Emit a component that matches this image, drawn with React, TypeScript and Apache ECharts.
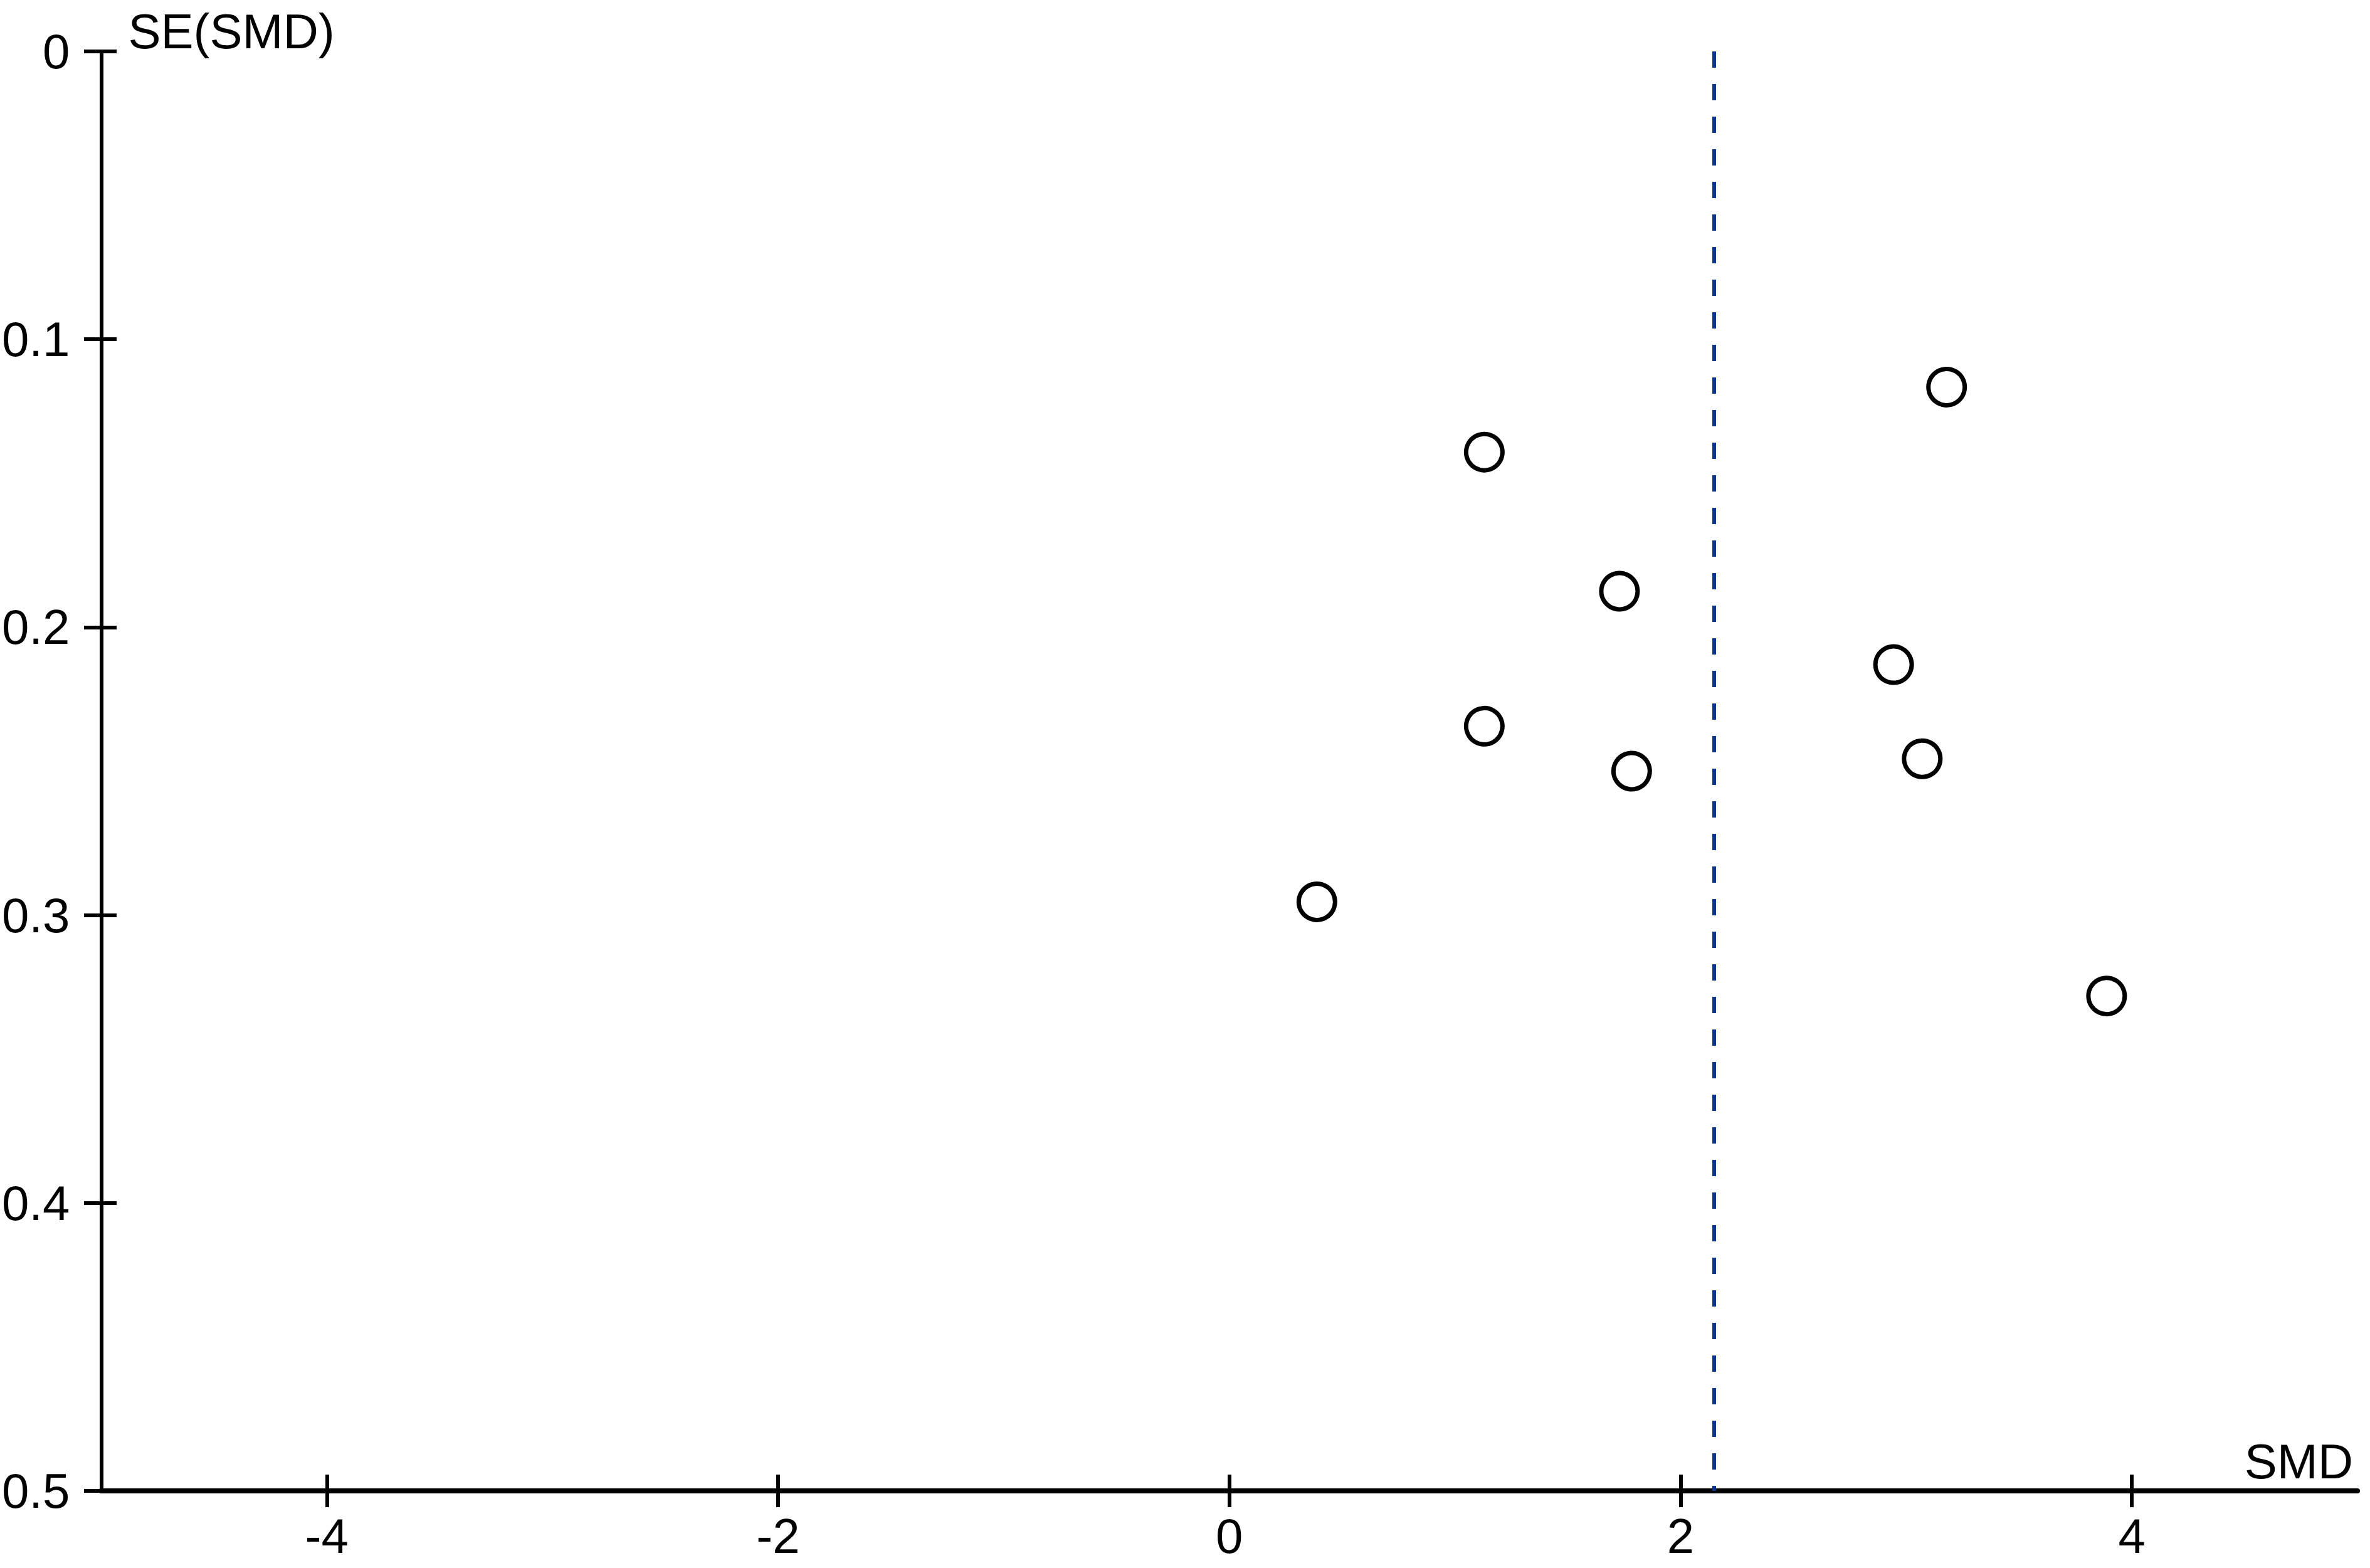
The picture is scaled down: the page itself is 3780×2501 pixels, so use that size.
import React, { useEffect, useRef } from "react";
import * as echarts from "echarts";

const smdValues: number[] = [3.179, 1.13, 1.729, 2.944, 1.13, 1.783, 3.071, 0.388, 3.888];
const seValues: number[] = [0.1166, 0.1392, 0.1875, 0.213, 0.2344, 0.25, 0.2457, 0.2954, 0.3281];
const pooledSMD = 2.147;
const xTicks: number[] = [-4, -2, 0, 2, 4];
const yMin = 0;
const yMax = 0.5;
const yStep = 0.1;
const xMin = -5;
const xMax = 5;

const FONT = "Liberation Sans, Arial, sans-serif";

const W = 3780;
const H = 2501;
const G_LEFT = 160;
const G_RIGHT = 20;
const G_TOP = 82;
const G_BOTTOM = 123;
const TICK_HALF = 26;

export default function App() {
  const ref = useRef<HTMLDivElement>(null);
  useEffect(() => {
    if (!ref.current) return;
    const chart = echarts.init(ref.current, undefined, { renderer: "svg" });
    const points = smdValues.map((x, i) => [x, seValues[i]]);
    const axisColor = "#000";
    const baseX = {
      type: "value" as const,
      min: xMin,
      max: xMax,
      splitLine: { show: false },
    };
    // Helper axes carry tick marks that cross the axis lines (half inside, half outside).
    const tickAxisXOffset = G_TOP - (H - G_BOTTOM + TICK_HALF);
    const tickAxisYOffset = (G_LEFT - TICK_HALF) - (W - G_RIGHT);
    chart.setOption({
      animation: false,
      backgroundColor: "#fff",
      grid: { left: G_LEFT, right: G_RIGHT, top: G_TOP, bottom: G_BOTTOM, containLabel: false },
      xAxis: [
        {
          ...baseX,
          position: "bottom",
          name: "SMD",
          nameLocation: "end",
          nameGap: -7,
          nameTextStyle: {
            fontFamily: FONT,
            fontSize: 78,
            color: "#000",
            align: "right",
            verticalAlign: "bottom",
            padding: [0, 0, 8, 0],
          },
          axisLine: { show: true, onZero: false, lineStyle: { color: axisColor, width: 8 } },
          axisTick: { show: false },
          axisLabel: {
            show: true,
            customValues: xTicks,
            margin: 33,
            fontFamily: FONT,
            fontSize: 78,
            color: "#000",
            formatter: (v: number) => String(v),
          },
          z: 2,
        },
        {
          ...baseX,
          position: "top",
          offset: tickAxisXOffset,
          axisLine: { show: true, onZero: false, lineStyle: { color: "#000", opacity: 0, width: 1 } },
          axisTick: {
            show: true,
            length: TICK_HALF * 2,
            inside: false,
            customValues: xTicks,
            lineStyle: { color: axisColor, width: 6 },
          },
          axisLabel: { show: false },
        },
      ],
      yAxis: [
        {
          type: "value",
          min: yMin,
          max: yMax,
          interval: yStep,
          inverse: true,
          position: "left",
          name: "SE(SMD)",
          nameLocation: "start",
          nameGap: -7,
          nameTextStyle: {
            fontFamily: FONT,
            fontSize: 78,
            color: "#000",
            align: "left",
            verticalAlign: "bottom",
            padding: [0, 0, 0, 43],
          },
          splitLine: { show: false },
          axisLine: { show: true, onZero: false, lineStyle: { color: axisColor, width: 6 } },
          axisTick: { show: false },
          axisLabel: {
            show: true,
            margin: 50,
            fontFamily: FONT,
            fontSize: 78,
            color: "#000",
            padding: [28, 0, 0, 0],
            formatter: (v: number) => String(Math.round(v * 10) / 10),
          },
        },
        {
          type: "value",
          min: yMin,
          max: yMax,
          interval: yStep,
          inverse: true,
          position: "right",
          offset: tickAxisYOffset,
          splitLine: { show: false },
          axisLine: { show: true, onZero: false, lineStyle: { color: "#000", opacity: 0, width: 1 } },
          axisTick: {
            show: true,
            length: TICK_HALF * 2,
            inside: false,
            lineStyle: { color: axisColor, width: 6 },
          },
          axisLabel: { show: false },
        },
      ],
      series: [
        {
          type: "scatter",
          xAxisIndex: 0,
          yAxisIndex: 0,
          data: points,
          symbol: "circle",
          symbolSize: 58,
          itemStyle: { color: "#fff", borderColor: "#000", borderWidth: 7, opacity: 1 },
          markLine: {
            silent: true,
            symbol: ["none", "none"],
            label: { show: false },
            lineStyle: { color: "#0b3594", width: 6, type: [26, 26] },
            data: [[{ coord: [pooledSMD, yMin] }, { coord: [pooledSMD, yMax] }]],
          },
          z: 3,
        },
      ],
    });
    return () => chart.dispose();
  }, []);
  return (
    <div
      ref={ref}
      style={{ position: "absolute", left: 0, top: 0, width: W, height: H, background: "#fff" }}
    />
  );
}
